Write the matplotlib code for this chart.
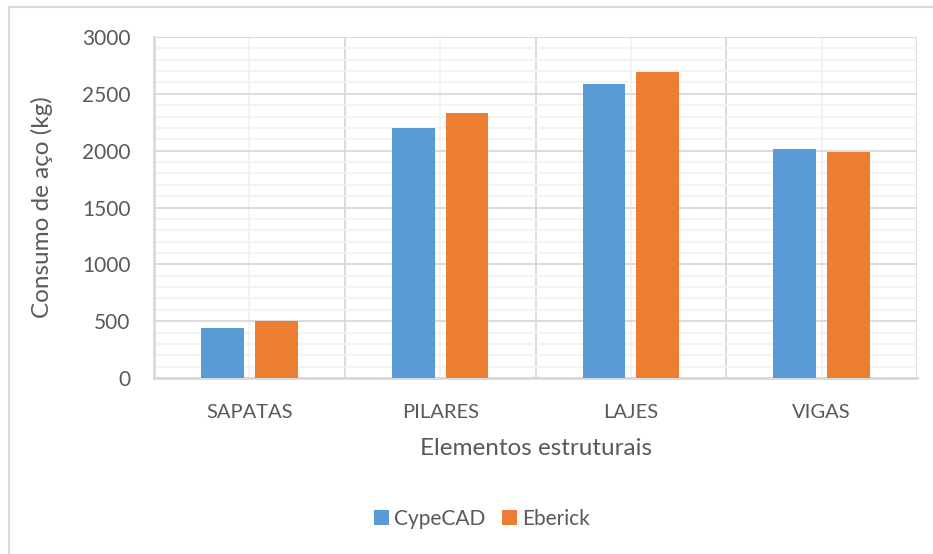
import numpy as np
import matplotlib.pyplot as plt
from matplotlib.lines import Line2D
from matplotlib.ticker import MultipleLocator

categories = ['SAPATAS', 'PILARES', 'LAJES', 'VIGAS']
cypecad = [440, 2200, 2585, 2015]
eberick = [500, 2330, 2690, 1990]

blue = '#5B9BD5'
orange = '#ED7D31'
text_color = '#595959'

plt.rcParams['font.family'] = ['Lato', 'DejaVu Sans']

fig = plt.figure(figsize=(9.33, 5.54), dpi=100)
ax = fig.add_axes([154 / 933, 1 - 378 / 554, (917 - 154) / 933, (378 - 37) / 554])

x = np.arange(len(categories))
w = 0.225
off = 0.141
ax.bar(x - off, cypecad, w, color=blue, label='CypeCAD', zorder=3)
ax.bar(x + off, eberick, w, color=orange, label='Eberick', zorder=3)

ax.set_xlim(-0.5, len(categories) - 0.5)
ax.set_ylim(0, 3000)
ax.yaxis.set_major_locator(MultipleLocator(500))
ax.yaxis.set_minor_locator(MultipleLocator(100))
ax.set_xticks(x)
ax.set_xticklabels(categories)
ax.set_xticks(np.arange(-0.5, len(categories)), minor=True)

ax.grid(which='major', axis='y', color='#D9D9D9', linewidth=1.3, zorder=0)
ax.grid(which='minor', axis='y', color='#F2F2F2', linewidth=1.3, zorder=0)
ax.grid(which='minor', axis='x', color='#D9D9D9', linewidth=1.3, zorder=0)
ax.grid(which='major', axis='x', color='#F2F2F2', linewidth=1.3, zorder=0)

for s in ['top', 'right']:
    ax.spines[s].set_visible(False)
for s in ['left', 'bottom']:
    ax.spines[s].set_color('#D9D9D9')
    ax.spines[s].set_linewidth(2)

ax.tick_params(which='both', length=0)
ax.tick_params(axis='y', labelsize=15, labelcolor=text_color, pad=17)
ax.tick_params(axis='x', labelsize=14.5, labelcolor=text_color, pad=19)

ax.set_ylabel('Consumo de aço (kg)', fontsize=17.5, color=text_color, labelpad=21)
ax.set_xlabel('Elementos estruturais', fontsize=17.5, color=text_color, labelpad=12)

fig.legend(loc='center', bbox_to_anchor=(482 / 933, 1 - 519 / 554), ncol=2,
           frameon=False, fontsize=15, labelcolor=text_color,
           handlelength=0.7, handleheight=0.7, handletextpad=0.25, columnspacing=0.8)

# chart-area border (only top and left edges are visible in the crop)
fig.add_artist(Line2D([9 / 933, 9 / 933], [0, 1 - 7 / 554], transform=fig.transFigure,
                      color='#D9D9D9', linewidth=1.5))
fig.add_artist(Line2D([9 / 933, 1], [1 - 7 / 554, 1 - 7 / 554], transform=fig.transFigure,
                      color='#D9D9D9', linewidth=1.5))

fig.savefig('out.png', dpi=100)
